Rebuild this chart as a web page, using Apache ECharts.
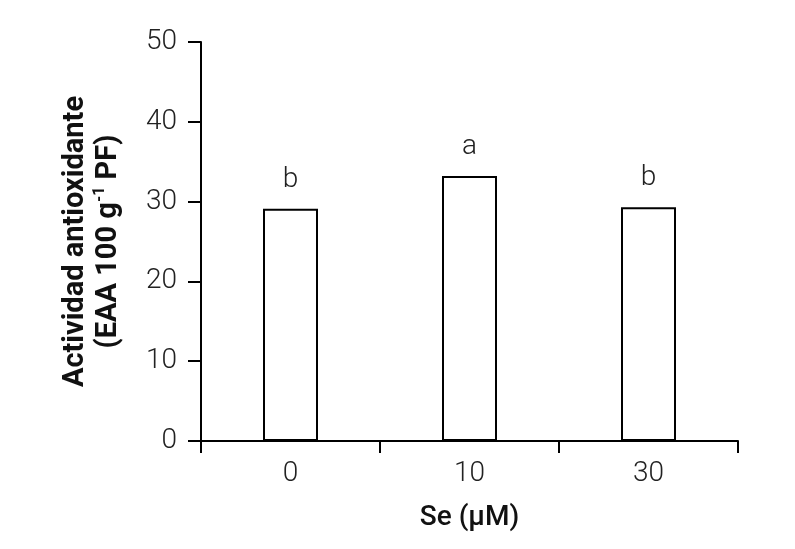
<!DOCTYPE html>
<html><head><meta charset="utf-8">
<script src="https://cdn.jsdelivr.net/npm/echarts@6/dist/echarts.min.js"></script>
<style>html,body{margin:0;padding:0;background:#fff}#c{width:795px;height:549px}</style>
</head><body><div id="c"></div>
<script>
const categories = ['0', '10', '30'];
const values = [29.1, 33.2, 29.3];
const letters = ['b', 'a', 'b'];
const yTicks = [0, 10, 20, 30, 40, 50];

const chart = echarts.init(document.getElementById('c'));
chart.setOption({
  animation: false,
  backgroundColor: '#fff',
  grid: { left: 201, right: 57, top: 42, bottom: 108 },
  xAxis: {
    type: 'category',
    data: categories,
    name: 'Se (μM)',
    nameLocation: 'middle',
    nameGap: 63,
    nameTextStyle: { fontFamily: 'Roboto', fontSize: 28, fontWeight: 500, color: '#111' },
    axisLine: { lineStyle: { color: '#000', width: 2 } },
    axisTick: { show: true, length: 12, lineStyle: { color: '#000', width: 2 } },
    axisLabel: { fontFamily: 'Roboto', fontWeight: 300, fontSize: 28, color: '#222', margin: 19 }
  },
  yAxis: {
    type: 'value',
    min: yTicks[0], max: yTicks[yTicks.length - 1], interval: 10,
    name: 'Actividad antioxidante\n(EAA 100 g{sup|-1} PF)',
    nameLocation: 'middle',
    nameGap: 76,
    nameRotate: 90,
    nameTextStyle: {
      fontFamily: 'Roboto', fontSize: 29, fontWeight: 'bold', color: '#111', lineHeight: 33,
      rich: { sup: { fontFamily: 'Roboto', fontSize: 16, fontWeight: 'bold', color: '#111', verticalAlign: 'top', padding: [0, 0, 12, 0] } }
    },
    splitLine: { show: false },
    axisLine: { show: true, lineStyle: { color: '#000', width: 2 } },
    axisTick: { show: true, length: 13, lineStyle: { color: '#000', width: 2 } },
    axisLabel: { fontFamily: 'Roboto', fontWeight: 300, fontSize: 28, color: '#222', margin: 24 }
  },
  series: [{
    type: 'bar',
    data: values,
    barWidth: 55,
    itemStyle: { color: '#fff', borderColor: '#000', borderWidth: 2 },
    label: {
      show: true, position: 'top', distance: 15,
      formatter: p => letters[p.dataIndex],
      fontFamily: 'Roboto', fontWeight: 300, fontSize: 28, color: '#222'
    }
  }]
});
</script></body></html>
